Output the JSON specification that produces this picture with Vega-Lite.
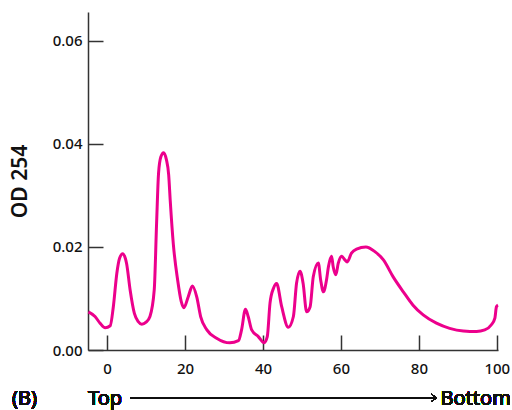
{
  "$schema": "https://vega.github.io/schema/vega-lite/v6.json",
  "width": 410,
  "height": 338,
  "autosize": {"type": "none"},
  "padding": {"left": 88, "top": 12, "right": 14, "bottom": 60},
  "config": {
    "view": {"stroke": null},
    "font": "Noto Sans",
    "axis": {
      "domainColor": "#333333",
      "domainWidth": 1.5,
      "tickColor": "#333333",
      "tickWidth": 1.5,
      "tickSize": -15,
      "labelFont": "Noto Sans",
      "labelFontSize": 15,
      "labelFontWeight": 500,
      "labelColor": "#111111",
      "grid": false
    }
  },
  "data": {
    "values": [
      {"fraction": -4.8, "od": 0.0074},
      {"fraction": -3.1, "od": 0.0065},
      {"fraction": -1.8, "od": 0.0052},
      {"fraction": -0.5, "od": 0.0043},
      {"fraction": 0.8, "od": 0.0047},
      {"fraction": 1.6, "od": 0.0084},
      {"fraction": 2.5, "od": 0.0149},
      {"fraction": 3.2, "od": 0.0178},
      {"fraction": 4.0, "od": 0.0187},
      {"fraction": 5.0, "od": 0.0168},
      {"fraction": 5.9, "od": 0.0117},
      {"fraction": 7.0, "od": 0.0071},
      {"fraction": 8.0, "od": 0.0055},
      {"fraction": 8.9, "od": 0.0050},
      {"fraction": 10.0, "od": 0.0054},
      {"fraction": 11.0, "od": 0.0065},
      {"fraction": 12.1, "od": 0.0117},
      {"fraction": 12.7, "od": 0.0246},
      {"fraction": 13.2, "od": 0.0343},
      {"fraction": 13.8, "od": 0.0375},
      {"fraction": 14.5, "od": 0.0383},
      {"fraction": 15.2, "od": 0.0370},
      {"fraction": 15.8, "od": 0.0340},
      {"fraction": 16.2, "od": 0.0290},
      {"fraction": 17.0, "od": 0.0205},
      {"fraction": 18.1, "od": 0.0136},
      {"fraction": 19.0, "od": 0.0095},
      {"fraction": 19.7, "od": 0.0082},
      {"fraction": 20.8, "od": 0.0103},
      {"fraction": 21.9, "od": 0.0124},
      {"fraction": 23.0, "od": 0.0103},
      {"fraction": 24.0, "od": 0.0065},
      {"fraction": 25.6, "od": 0.0039},
      {"fraction": 28.1, "od": 0.0023},
      {"fraction": 31.5, "od": 0.0014},
      {"fraction": 33.7, "od": 0.0018},
      {"fraction": 34.5, "od": 0.0039},
      {"fraction": 35.5, "od": 0.0079},
      {"fraction": 36.2, "od": 0.0065},
      {"fraction": 37.1, "od": 0.0039},
      {"fraction": 38.8, "od": 0.0026},
      {"fraction": 40.3, "od": 0.0014},
      {"fraction": 41.1, "od": 0.0026},
      {"fraction": 41.8, "od": 0.0091},
      {"fraction": 42.7, "od": 0.0120},
      {"fraction": 43.5, "od": 0.0129},
      {"fraction": 44.8, "od": 0.0084},
      {"fraction": 46.5, "od": 0.0044},
      {"fraction": 47.8, "od": 0.0065},
      {"fraction": 48.6, "od": 0.0129},
      {"fraction": 49.5, "od": 0.0153},
      {"fraction": 50.3, "od": 0.0129},
      {"fraction": 51.2, "od": 0.0074},
      {"fraction": 52.1, "od": 0.0084},
      {"fraction": 52.9, "od": 0.0142},
      {"fraction": 54.2, "od": 0.0169},
      {"fraction": 54.8, "od": 0.0136},
      {"fraction": 55.5, "od": 0.0113},
      {"fraction": 56.3, "od": 0.0136},
      {"fraction": 56.8, "od": 0.0162},
      {"fraction": 57.6, "od": 0.0182},
      {"fraction": 58.0, "od": 0.0162},
      {"fraction": 58.7, "od": 0.0146},
      {"fraction": 59.3, "od": 0.0168},
      {"fraction": 60.2, "od": 0.0182},
      {"fraction": 61.0, "od": 0.0175},
      {"fraction": 61.6, "od": 0.0171},
      {"fraction": 62.7, "od": 0.0188},
      {"fraction": 64.0, "od": 0.0196},
      {"fraction": 66.4, "od": 0.0200},
      {"fraction": 68.7, "od": 0.0191},
      {"fraction": 70.9, "od": 0.0175},
      {"fraction": 73.4, "od": 0.0142},
      {"fraction": 76.0, "od": 0.0113},
      {"fraction": 78.5, "od": 0.0087},
      {"fraction": 81.1, "od": 0.0068},
      {"fraction": 84.5, "od": 0.0052},
      {"fraction": 87.9, "od": 0.0042},
      {"fraction": 91.4, "od": 0.0037},
      {"fraction": 94.8, "od": 0.0036},
      {"fraction": 96.9, "od": 0.0039},
      {"fraction": 98.6, "od": 0.0049},
      {"fraction": 99.5, "od": 0.0062},
      {"fraction": 99.9, "od": 0.0084},
      {"fraction": 100.3, "od": 0.0087}
    ]
  },
  "layer": [
    {
      "mark": {"type": "line", "color": "#EC008C", "strokeWidth": 3, "interpolate": "monotone"},
      "encoding": {
        "x": {
          "field": "fraction", "type": "quantitative",
          "scale": {"domain": [-4.9, 100.3], "nice": false, "zero": false},
          "axis": {"values": [0, 20, 40, 60, 80, 100], "title": null, "labelPadding": 26}
        },
        "y": {
          "field": "od", "type": "quantitative",
          "scale": {"domain": [0, 0.0656], "nice": false},
          "axis": {
            "values": [0, 0.02, 0.04, 0.06], "format": ".2f",
            "title": "OD 254", "titleFont": "Noto Sans", "titleFontSize": 21,
            "titleFontWeight": 600, "titleColor": "#111111", "titlePadding": 22,
            "labelPadding": 21
          }
        }
      }
    },
    {
      "mark": {"type": "rule", "color": "#111111", "strokeWidth": 1},
      "encoding": {
        "x": {"datum": 5.9, "type": "quantitative"},
        "x2": {"datum": 84.6},
        "y": {"datum": -0.0093, "type": "quantitative"}
      }
    },
    {
      "mark": {"type": "point", "shape": "M-1.5,-1L0,0L-1.5,1", "filled": false, "color": "#111111", "strokeWidth": 1, "size": 50, "opacity": 1},
      "encoding": {
        "x": {"datum": 84.6, "type": "quantitative"},
        "y": {"datum": -0.0093, "type": "quantitative"}
      }
    },
    {
      "mark": {"type": "text", "font": "Noto Sans", "fontSize": 20, "fontWeight": 400, "fill": "#111111", "align": "left", "baseline": "alphabetic"},
      "encoding": {
        "x": {"datum": -4.9, "type": "quantitative"},
        "y": {"datum": -0.0107, "type": "quantitative"},
        "text": {"value": "Top"}
      }
    },
    {
      "mark": {"type": "text", "font": "Noto Sans", "fontSize": 20, "fontWeight": 400, "fill": "#111111", "align": "right", "baseline": "alphabetic"},
      "encoding": {
        "x": {"datum": 103.6, "type": "quantitative"},
        "y": {"datum": -0.0107, "type": "quantitative"},
        "text": {"value": "Bottom"}
      }
    },
    {
      "mark": {"type": "text", "font": "Noto Sans", "fontSize": 20, "fontWeight": 400, "fill": "#111111", "align": "left", "baseline": "alphabetic"},
      "encoding": {
        "x": {"datum": -24.4, "type": "quantitative"},
        "y": {"datum": -0.0107, "type": "quantitative"},
        "text": {"value": "(B)"}
      }
    }
  ]
}
